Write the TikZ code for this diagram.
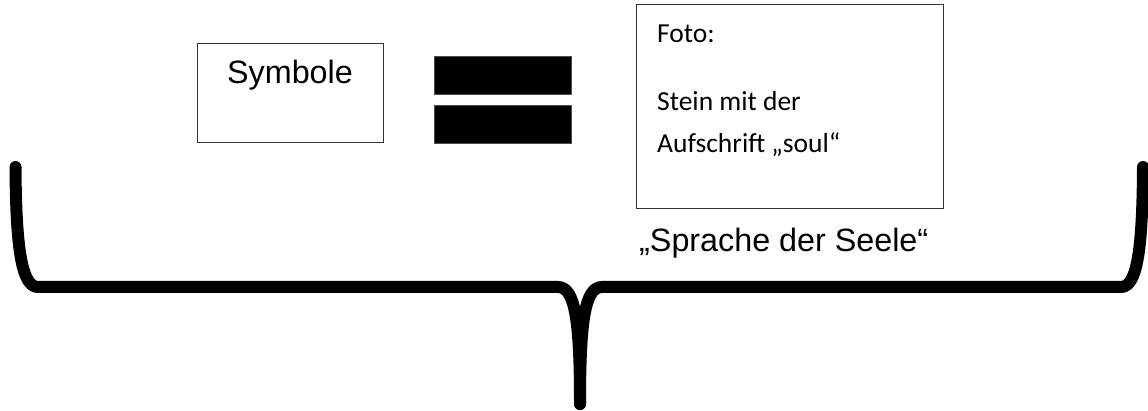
\documentclass[tikz,border=0pt]{standalone}
\usepackage{fontspec}
\setmainfont{Liberation Sans}
\newfontfamily\calfont{Carlito}
\begin{document}
\begin{tikzpicture}[x=1pt,y=-1pt,
  frame/.style={draw=black!80,line width=1pt,inner sep=0pt,outer sep=0pt},
  bar/.style={fill=black,draw=black!70,line width=0.6pt,inner sep=0pt,minimum width=137pt,minimum height=38pt},
  lbl/.style={inner sep=0pt,font=\fontsize{32.3}{38}\selectfont},
  fotolbl/.style={inner sep=0pt,anchor=base west,font=\calfont\fontsize{27.5}{32}\selectfont},
  brace/.style={line width=12pt,line cap=round,line join=round}]
\useasboundingbox (0,0) rectangle (1148,411);
% Symbole box
\node[frame,minimum width=186pt,minimum height=99pt] (symbox) at (290,93.5) {};
\node[lbl,anchor=base] (symtxt) at (290,84) {Symbole};
% equals bars
\node[bar] (bartop) at (502.5,75) {};
\node[bar] (barbot) at (502.5,124) {};
% Foto box
\node[frame,minimum width=307pt,minimum height=204pt] (fotobox) at (789.5,107) {};
\node[fotolbl] (foto) at (657,43) {Foto:};
\node[fotolbl] (stein) at (657,111) {Stein mit der};
\node[fotolbl] (auf) at (657,153) {Aufschrift „soul“};
\node[lbl,anchor=base west] (sprache) at (639,252) {„Sprache der Seele“};
% brace
\coordinate (lt) at (15.5,167);
\coordinate (lc) at (38,287);
\coordinate (ml) at (558,287);
\coordinate (tip) at (580,404);
\coordinate (mr) at (602,287);
\coordinate (rc) at (1121,287);
\coordinate (rt) at (1143,167);
\draw[brace] (lt) .. controls (16,250) and (22,287) .. (lc) -- (ml)
  .. controls (575,287) and (580,320) .. (tip);
\draw[brace] (rt) .. controls (1142.5,250) and (1137,287) .. (rc) -- (mr)
  .. controls (585,287) and (580,320) .. (tip);
\end{tikzpicture}
\end{document}
